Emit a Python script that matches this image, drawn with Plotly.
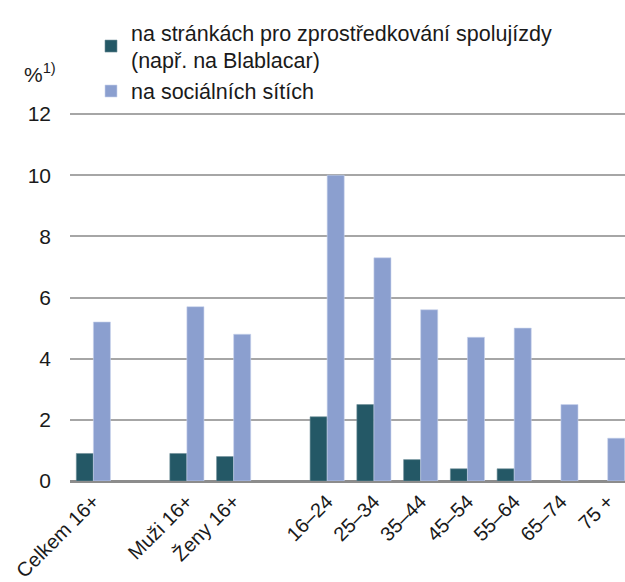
import plotly.graph_objects as go

categories = ["Celkem 16+", " ", "Muži 16+", "Ženy 16+", "  ", "16–24", "25–34",
              "35–44", "45–54", "55–64", "65–74", "75 +"]
spolujizda = [0.9, None, 0.9, 0.8, None, 2.1, 2.5, 0.7, 0.4, 0.4, None, None]
socialni = [5.2, None, 5.7, 4.8, None, 10.0, 7.3, 5.6, 4.7, 5.0, 2.5, 1.4]
name1 = "na stránkách pro zprostředkování spolujízdy<br>(např. na Blablacar)"
name2 = "na sociálních sítích"
ytick_vals = [0, 2, 4, 6, 8, 10, 12]

FONT = "Liberation Sans, Arial, sans-serif"

fig = go.Figure()
fig.add_trace(go.Bar(x=categories, y=spolujizda, name=name1,
                     marker=dict(color="#245866", line=dict(color="#6f8f98", width=0.6))))
fig.add_trace(go.Bar(x=categories, y=socialni, name=name2,
                     marker=dict(color="#8b9fcf", line=dict(color="#c9d3ec", width=0.6))))

fig.update_layout(
    width=625, height=582,
    margin=dict(l=70, r=0, t=111, b=101, autoexpand=False),
    paper_bgcolor="white", plot_bgcolor="white",
    font=dict(family=FONT, size=21, color="#1a1a1a"),
    barmode="group", bargap=0.27, bargroupgap=0,
    showlegend=True,
    legend=dict(xref="container", yref="container", x=0.1456, y=0.98,
                xanchor="left", yanchor="top",
                font=dict(size=21.5), bgcolor="rgba(0,0,0,0)",
                itemwidth=30, traceorder="normal"),
    xaxis=dict(type="category", categoryorder="array", categoryarray=categories,
               tickangle=-45, tickfont=dict(size=20), showgrid=False,
               showline=False, ticks="", range=[-0.5, 11.37], automargin=False,
               ticklabelstandoff=4),
    yaxis=dict(range=[0, 12.1], tickvals=ytick_vals, showgrid=True,
               gridcolor="#a6a6a6", gridwidth=1.5, zeroline=True,
               zerolinecolor="#8c8c8c", zerolinewidth=2.5, automargin=False,
               ticks="", ticklabelstandoff=18, tickfont=dict(size=21)),
)
fig.add_annotation(text="%<sup>1)</sup>", xref="paper", yref="paper",
                   x=-0.0865, y=1.062, xanchor="left", yanchor="bottom",
                   showarrow=False, font=dict(size=21))

fig.write_html("out.html", config={"displayModeBar": False},
               post_script="document.body.style.margin='0';")
